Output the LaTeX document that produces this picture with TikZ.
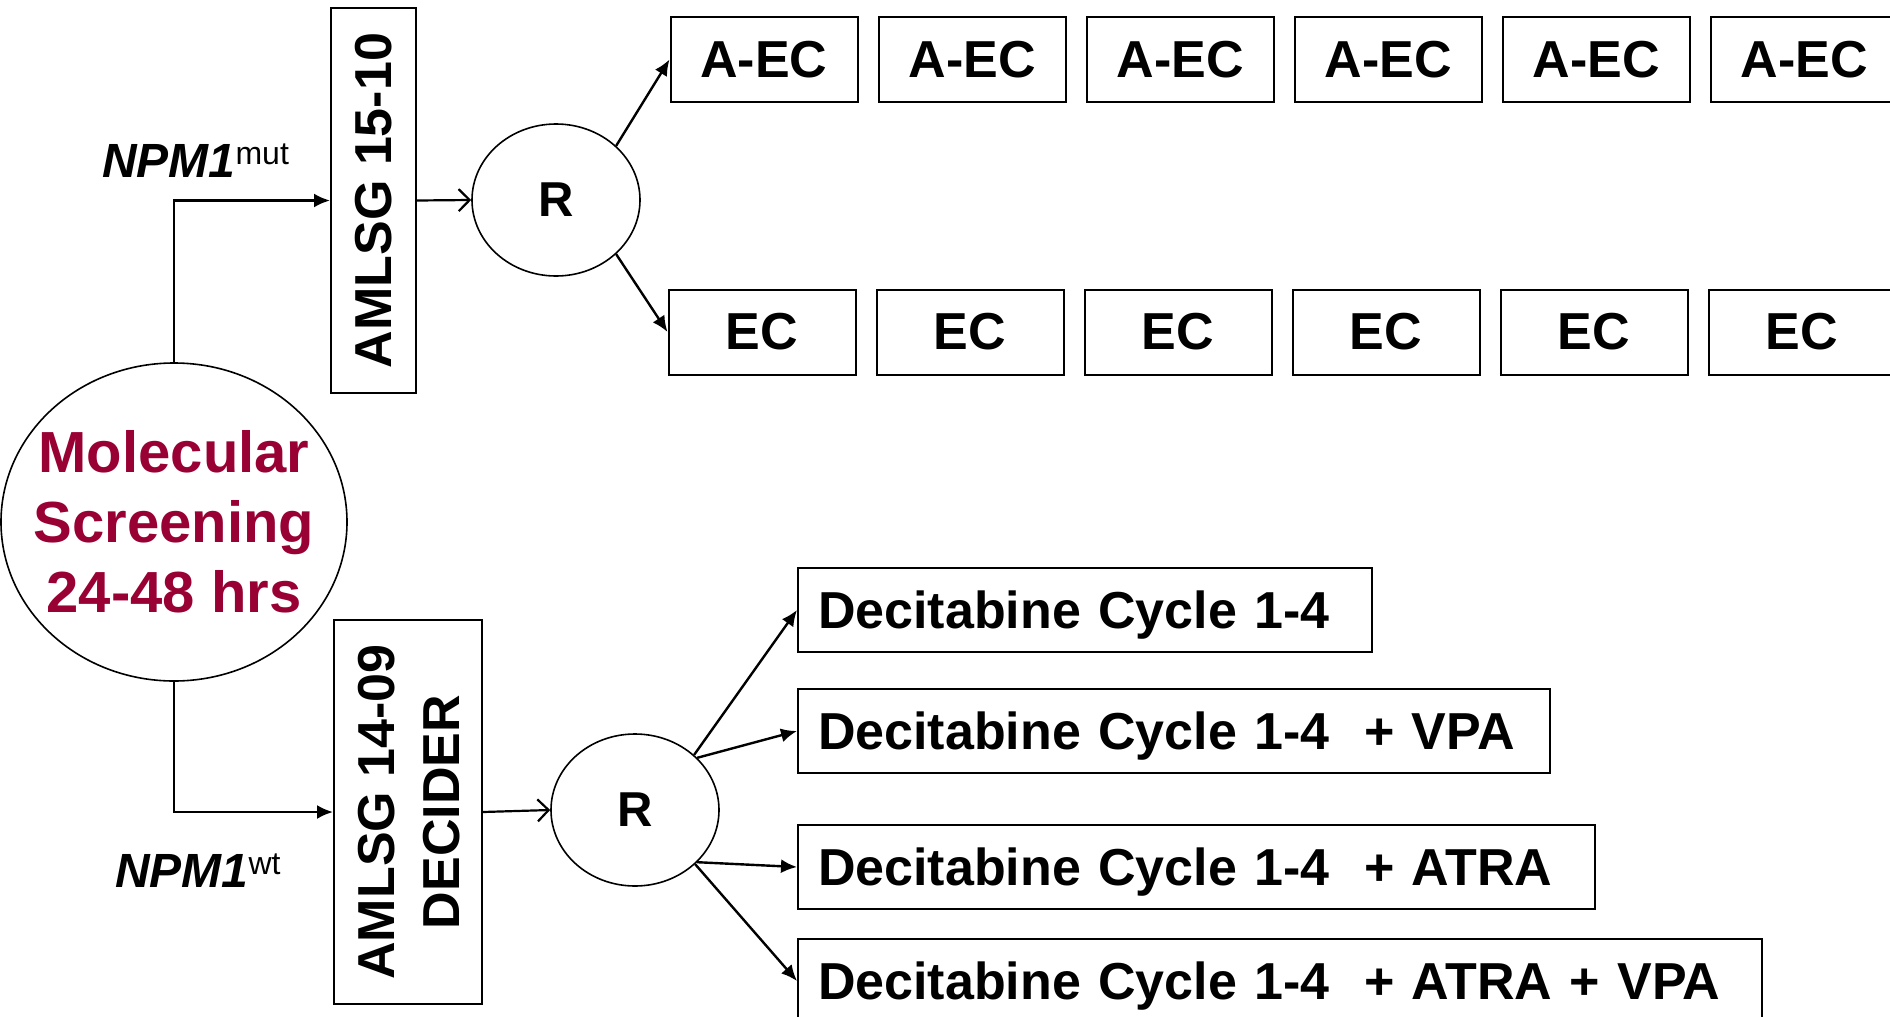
\documentclass[tikz,border=0pt]{standalone}
\usepackage{fontspec}
\usepackage{graphicx}
\setmainfont{Liberation Sans}
\usetikzlibrary{arrows.meta,shapes.geometric}
\definecolor{msred}{RGB}{153,0,51}
\tikzset{
  box/.style={draw, line width=2pt, inner sep=0pt, font=\fontsize{52}{62}\selectfont\bfseries},
  smallbox/.style={box, minimum width=187pt, minimum height=85pt},
  dbox/.style={box, anchor=north west, minimum height=84pt, inner xsep=20pt, align=left, text height=46pt, text depth=10pt},
  rnode/.style={draw, ellipse, line width=1.6pt, minimum width=168pt, minimum height=152pt, inner sep=0pt, font=\fontsize{49}{50}\selectfont\bfseries},
  arr/.style={line width=2.4pt, -{Latex[length=16pt,width=14pt]}},
  oarr/.style={line width=2.2pt, -{Straight Barb[length=11pt,width=22pt,line width=2.2pt]}},
  lbl/.style={anchor=base west, inner sep=0pt, font=\fontsize{48}{50}\selectfont\bfseries\itshape}
}
\begin{document}
\begin{tikzpicture}[x=1pt,y=-1pt]
\useasboundingbox (0,0) rectangle (1890,1017);
% screening ellipse
\node[draw, ellipse, line width=1.6pt, minimum width=346pt, minimum height=318pt, inner sep=0pt] (ms) at (174,522) {};
\node[text=msred, align=center, inner sep=0pt, font=\fontsize{58}{70}\selectfont\bfseries] (mstext) at (174,522)
      {Molecular\\Screening\\24-48 hrs};
% trial boxes
\node[box, minimum width=85pt, minimum height=385pt] (t1510) at (373.5,200.5)
      {\rotatebox{90}{AMLSG 15-10}};
\node[box, minimum width=148pt, minimum height=384pt] (t1409) at (408,812)
      {\hspace{14pt}\rotatebox{90}{\begin{tabular}{@{}c@{}}AMLSG 14-09\\[3pt]DECIDER\end{tabular}}};
% labels
\node[lbl] (mut) at (102,177) {NPM1\raisebox{13pt}{\upshape\mdseries\fontsize{32}{32}\selectfont mut}};
\node[lbl] (wt) at (115,887) {NPM1\raisebox{13pt}{\upshape\mdseries\fontsize{32}{32}\selectfont wt}};
% randomisation nodes
\node[rnode] (r1) at (556,200) {R};
\node[rnode] (r2) at (635,810) {R};
% A-EC and EC rows
\foreach \i in {1,...,6}{
  \node[smallbox] (aec\i) at ({764+208*(\i-1)},59.5) {A-EC};
  \node[smallbox] (ec\i) at ({762+208*(\i-1)},332) {EC};
}
% decitabine arms
\node[dbox, text width=534pt] (d1) at (797,567) {Decitabine Cycle 1-4};
\node[dbox, text width=712pt] (d2) at (797,688) {Decitabine Cycle 1-4~~+ VPA};
\node[dbox, text width=757pt] (d3) at (797,824) {Decitabine Cycle 1-4~~+ ATRA};
\node[dbox, text width=924pt] (d4) at (797,938) {Decitabine Cycle 1-4~~+ ATRA + VPA};
% connectors
\draw[arr] (ms.north) |- (t1510.west);
\draw[arr] (ms.south) |- (t1409.west);
\draw[oarr] (t1510.east) -- (r1.west);
\draw[oarr] (t1409.east) -- (r2.west);
\draw[arr] (r1.42) -- (aec1.west);
\draw[arr] (r1.-42) -- (ec1.west);
\draw[arr] (r2.43) -- (d1.west);
\draw[arr] (r2.40) -- (d2.west);
\draw[arr] (r2.-40) -- (d3.west);
\draw[arr] (r2.-42) -- (d4.west);
\end{tikzpicture}
\end{document}
